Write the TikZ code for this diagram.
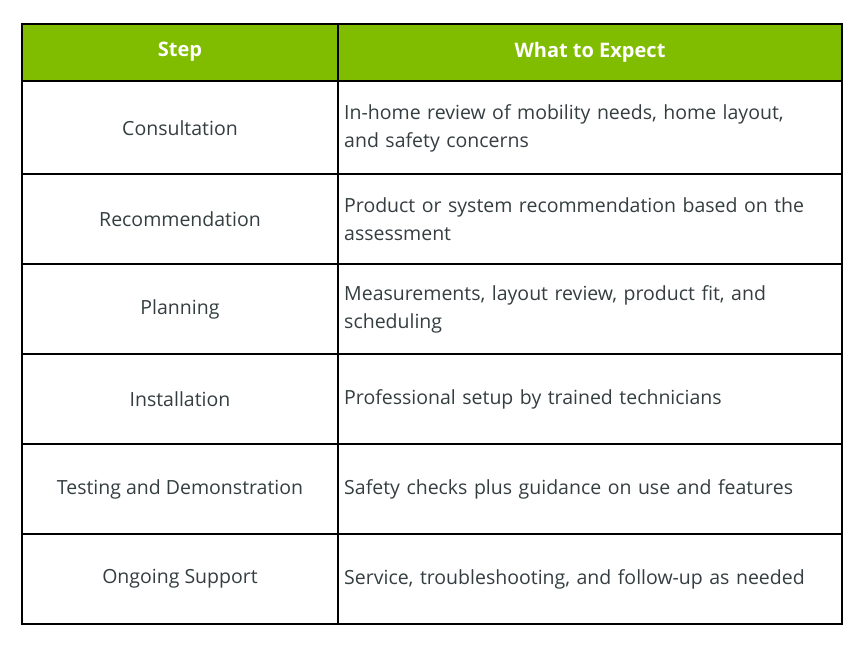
\documentclass[tikz,border=0pt]{standalone}
\usepackage{fontspec}
\setmainfont{Open Sans}
\usetikzlibrary{positioning}
\definecolor{headgreen}{RGB}{128,188,0}
\definecolor{bodytext}{RGB}{52,62,64}

\begin{document}
\begin{tikzpicture}
    [
        x=1pt,y=-1pt,
        head/.style={font=\fontsize{20}{24}\selectfont\bfseries, text=white},
        stepcell/.style={font=\fontsize{19.5}{28}\selectfont, text=bodytext},
        infocell/.style={font=\fontsize{19.5}{28}\selectfont, text=bodytext, anchor=west, text width=495pt, align=left, inner sep=0pt},
        grid/.style={draw=black, line width=1.6pt}
    ]
    \useasboundingbox (0,0) rectangle (864,648);

    % Header
    \fill[headgreen] (22,24) rectangle (842,81);
    \node[head] (h_step) at (180,52) {Step};
    \node[head] (h_expect) at (590,52) {What to Expect};

    % Rows
    \node[stepcell] (s_consult) at (180,128) {Consultation};
    \node[infocell] (e_consult) at (344,128) {In-home review of mobility needs, home layout,\\and safety concerns};
    \node[stepcell] (s_recommend) at (180,219) {Recommendation};
    \node[infocell] (e_recommend) at (344,219) {Product or system recommendation based on the\\assessment};
    \node[stepcell] (s_plan) at (180,309) {Planning};
    \node[infocell] (e_plan) at (344,309) {Measurements, layout review, product fit, and\\scheduling};
    \node[stepcell] (s_install) at (180,399) {Installation};
    \node[infocell] (e_install) at (344,399) {Professional setup by trained technicians};
    \node[stepcell] (s_test) at (180,489) {Testing and Demonstration};
    \node[infocell] (e_test) at (344,489) {Safety checks plus guidance on use and features};
    \node[stepcell] (s_support) at (180,579) {Ongoing Support};
    \node[infocell] (e_support) at (344,579) {Service, troubleshooting, and follow-up as needed};

    % Grid
    \draw[grid] (22,24) rectangle (842,624);
    \draw[grid] (338,24) -- (338,624);
    \foreach \y in {81,174,264,354,444,534}
        \draw[grid] (22,\y) -- (842,\y);
\end{tikzpicture}
\end{document}
